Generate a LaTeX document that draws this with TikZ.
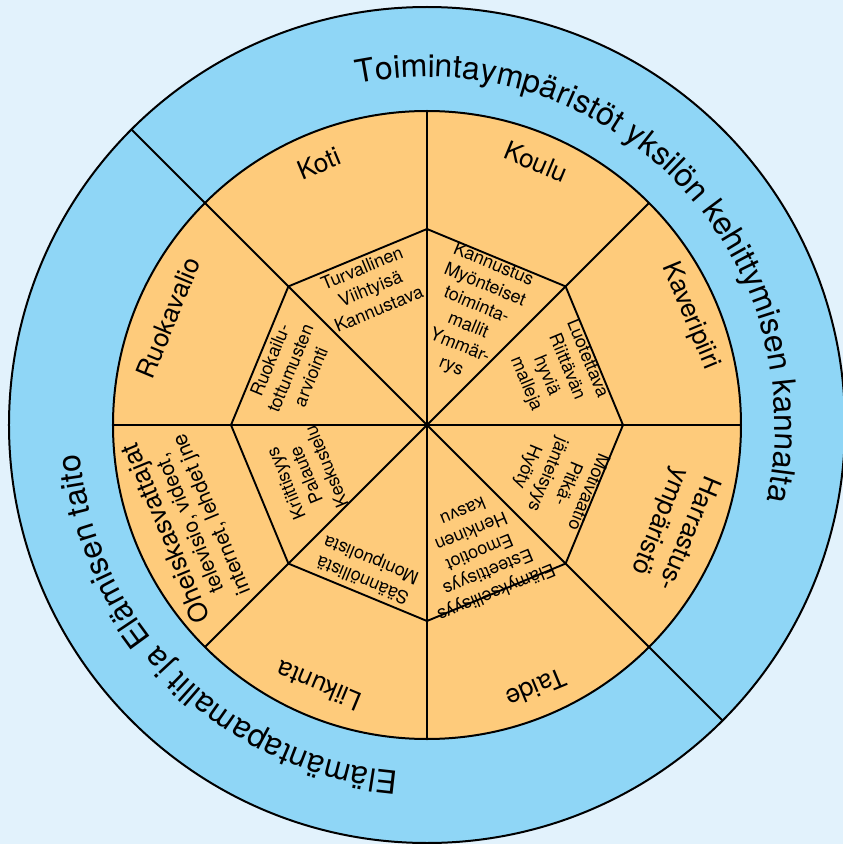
\documentclass[tikz,border=0pt]{standalone}
\usepackage{fontspec}
\setmainfont{TeX Gyre Heros}
\usetikzlibrary{decorations.text}
\definecolor{pagebg}{HTML}{E2F2FC}
\definecolor{ringblue}{HTML}{8FD6F6}
\definecolor{wedgeorange}{HTML}{FECB7B}
\newcommand{\ringfont}{\fontsize{32}{32}\selectfont}
\tikzset{
  rim/.style={draw=black, line width=2pt},
  spoke/.style={draw=black, line width=1.9pt, line join=round},
  sectorlabel/.style={font=\fontsize{26}{31}\selectfont, align=center, inner sep=0pt},
  wedgetext/.style={font=\fontsize{18}{22}\selectfont, align=center, inner sep=0pt},
  ringtext/.style={decorate, decoration={text along path, text align=center, text={|\ringfont|#1}}}
}
\begin{document}
\begin{tikzpicture}[x=1pt,y=1pt]
\useasboundingbox (-427,-419) rectangle (416,425);
\fill[pagebg] (-427,-419) rectangle (416,425);
\coordinate (o) at (0,0);

% outer ring and inner disc
\filldraw[fill=ringblue, rim] (o) circle[radius=418];
\filldraw[fill=wedgeorange, rim] (o) circle[radius=314];

% eight spokes
\foreach \a in {0,45,...,315} \draw[spoke] (o) -- (\a:314);

% octagon
\foreach \a [count=\i] in {0,45,...,315} \coordinate (v\i) at (\a:196);
\draw[spoke] (v1) -- (v2) -- (v3) -- (v4) -- (v5) -- (v6) -- (v7) -- (v8) -- cycle;

% ring dividers
\draw[spoke] (135:314) -- (135:418);
\draw[spoke] (-45:314) -- (-45:418);

% ring captions
\path[ringtext={Toimintaympäristöt yksilön kehittymisen kannalta}]
  (134.5:348) arc[start angle=134.5, end angle=-45.5, radius=348];
\path[ringtext={Elämäntapamallit ja Elämisen taito}]
  (-45:348) arc[start angle=-45, end angle=-225, radius=348];

% outer sectors
\node[sectorlabel, rotate=22.5]   (koti)      at (112.5:283) {Koti};
\node[sectorlabel, rotate=-22.5]  (koulu)     at (67.5:285)  {Koulu};
\node[sectorlabel, rotate=-67.5]  (kaveri)    at (22.5:285)  {Kaveripiiri};
\node[sectorlabel, rotate=-112.5] (harrastus) at (-22.5:267) {Harrastus-\\ympäristö};
\node[sectorlabel, rotate=-157.5] (taide)     at (-67.5:285) {Taide};
\node[sectorlabel, rotate=157.5]  (liikunta)  at (-112.5:282) {Liikunta};
\node[sectorlabel, rotate=112.5, font=\fontsize{21}{24}\selectfont] (oheis) at (-157.5:258)
  {{\fontsize{26}{26}\selectfont Oheiskasvattajat}\\televisio, videot,\\internet, lehdet jne};
\node[sectorlabel, rotate=67.5]   (ruoka)     at (157.5:280) {Ruokavalio};

% inner wedges
\node[wedgetext, rotate=22.5]   (w1) at (112.5:148) {Turvallinen\\Viihtyisä\\Kannustava};
\node[wedgetext, rotate=-22.5]  (w2) at (67.5:118)  {Kannustus\\Myönteiset\\toiminta-\\mallit\\Ymmär-\\rys};
\node[wedgetext, rotate=-67.5]  (w3) at (22.5:140)  {Luotettava\\Riittävän\\hyviä\\malleja};
\node[wedgetext, rotate=-112.5] (w4) at (-22.5:141) {Motivaatio\\Pitkä-\\jänteisyys\\Hyöty};
\node[wedgetext, rotate=-157.5] (w5) at (-67.5:138) {Elämyksellisyys\\Esteettisyys\\Emootiot\\Henkinen\\kasvu};
\node[wedgetext, rotate=157.5]  (w6) at (-112.5:156) {Säännöllistä\\Monipuolista};
\node[wedgetext, rotate=112.5]  (w7) at (-157.5:131) {Kriittisyys\\Palaute\\Keskustelu};
\node[wedgetext, rotate=67.5]   (w8) at (157.5:148) {Ruokailu-\\tottumusten\\arviointi};
\end{tikzpicture}
\end{document}
